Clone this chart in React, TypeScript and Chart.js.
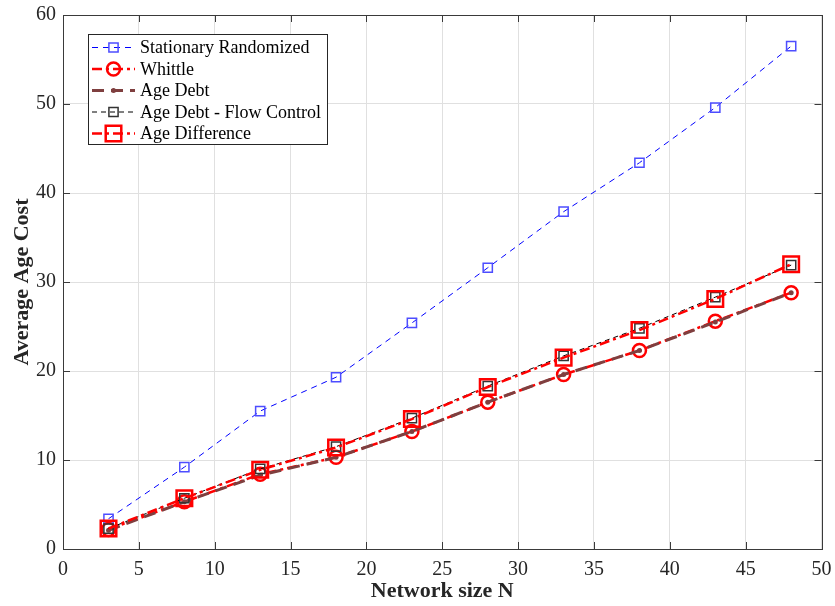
import React, { useEffect, useRef } from 'react';
import { Chart, registerables } from 'chart.js';

Chart.register(...registerables);

const networkSizes = [3, 8, 13, 18, 23, 28, 33, 38, 43, 48];
const stationaryRandomized = [3.4, 9.2, 15.5, 19.3, 25.4, 31.6, 37.9, 43.4, 49.6, 56.5];
const whittle = [2.2, 5.3, 8.4, 10.3, 13.2, 16.5, 19.6, 22.3, 25.6, 28.8];
const ageDebt = [2.1, 5.3, 8.3, 10.3, 13.2, 16.5, 19.6, 22.3, 25.5, 28.8];
const ageDebtFlowControl = [2.3, 5.7, 9.0, 11.5, 14.7, 18.3, 21.7, 24.8, 28.3, 31.9];
const ageDifference = [2.3, 5.7, 8.9, 11.4, 14.6, 18.2, 21.5, 24.6, 28.1, 32.0];
const seriesNames = [
  'Stationary Randomized',
  'Whittle',
  'Age Debt',
  'Age Debt - Flow Control',
  'Age Difference',
];
const xAxisTitle = 'Network size N';
const yAxisTitle = 'Average Age Cost';

const FONT = "'Liberation Serif', 'Times New Roman', serif";

type Style = {
  color: string;
  width: number;
  dash: number[];
  marker: 'rect' | 'circle';
  radius: number;
  markerColor: string;
  markerWidth: number;
  filled: boolean;
};

const styles: Style[] = [
  { color: '#0000ff', width: 1, dash: [6, 5], marker: 'rect', radius: 6.5, markerColor: '#4d4dff', markerWidth: 1.5, filled: false },
  { color: '#ff0000', width: 2.5, dash: [10, 4, 3, 4], marker: 'circle', radius: 6.5, markerColor: '#ff0000', markerWidth: 2.5, filled: false },
  { color: '#7f3f3f', width: 3, dash: [12, 7], marker: 'circle', radius: 2.5, markerColor: '#7f3f3f', markerWidth: 0, filled: true },
  { color: '#000000', width: 1, dash: [5, 4], marker: 'rect', radius: 6.5, markerColor: '#333333', markerWidth: 1.5, filled: false },
  { color: '#ff0000', width: 2.5, dash: [10, 4, 3, 4], marker: 'rect', radius: 11, markerColor: '#ff0000', markerWidth: 2.5, filled: false },
];

const seriesValues = [stationaryRandomized, whittle, ageDebt, ageDebtFlowControl, ageDifference];

function drawMarker(ctx: CanvasRenderingContext2D, s: Style, x: number, y: number) {
  ctx.save();
  ctx.setLineDash([]);
  ctx.beginPath();
  if (s.marker === 'circle') {
    ctx.arc(x, y, s.radius, 0, Math.PI * 2);
  } else {
    const h = s.radius * Math.SQRT1_2;
    ctx.rect(x - h, y - h, 2 * h, 2 * h);
  }
  if (s.filled) {
    ctx.fillStyle = s.markerColor;
    ctx.fill();
  }
  if (s.markerWidth > 0) {
    ctx.strokeStyle = s.markerColor;
    ctx.lineWidth = s.markerWidth;
    ctx.stroke();
  }
  ctx.restore();
}

const framePlugin = {
  id: 'matlabFrame',
  afterDraw(chart: any) {
    const ctx: CanvasRenderingContext2D = chart.ctx;
    const { left, right, top, bottom } = chart.chartArea;
    const xs = chart.scales.x;
    const ys = chart.scales.y;
    ctx.save();
    ctx.strokeStyle = '#3a3a3a';
    ctx.lineWidth = 1;
    ctx.setLineDash([]);
    const tl = 7;
    ctx.beginPath();
    xs.ticks.forEach((t: any) => {
      const px = Math.round(xs.getPixelForValue(t.value)) + 0.5;
      ctx.moveTo(px, bottom);
      ctx.lineTo(px, bottom - tl);
      ctx.moveTo(px, top);
      ctx.lineTo(px, top + tl);
    });
    ys.ticks.forEach((t: any) => {
      const py = Math.round(ys.getPixelForValue(t.value)) + 0.5;
      ctx.moveTo(left, py);
      ctx.lineTo(left + tl, py);
      ctx.moveTo(right, py);
      ctx.lineTo(right - tl, py);
    });
    ctx.stroke();
    ctx.strokeRect(Math.round(left) + 0.5, Math.round(top) + 0.5, Math.round(right - left), Math.round(bottom - top));

    // legend
    const lx = 88.5, ly = 34.5, lw = 239, lh = 110;
    ctx.fillStyle = '#ffffff';
    ctx.fillRect(lx, ly, lw, lh);
    ctx.strokeStyle = '#262626';
    ctx.strokeRect(lx, ly, lw, lh);
    ctx.font = `18px ${FONT}`;
    ctx.textBaseline = 'middle';
    ctx.textAlign = 'left';
    seriesNames.forEach((name, i) => {
      const s = styles[i];
      const y = 47.5 + i * 21.5;
      ctx.save();
      ctx.strokeStyle = s.color;
      ctx.lineWidth = s.width;
      ctx.setLineDash(s.dash);
      ctx.beginPath();
      ctx.moveTo(92, y);
      ctx.lineTo(135, y);
      ctx.stroke();
      ctx.restore();
      drawMarker(ctx, s, 113.5, y);
      ctx.fillStyle = '#000000';
      ctx.fillText(name, 140, y + 1);
    });
    ctx.restore();
  },
};

export default function App() {
  const canvasRef = useRef<HTMLCanvasElement | null>(null);

  useEffect(() => {
    document.body.style.margin = '0';
    const canvas = canvasRef.current;
    if (!canvas) return;
    const datasets = seriesNames.map((name, i) => {
      const s = styles[i];
      return {
        label: name,
        data: networkSizes.map((x, j) => ({ x, y: seriesValues[i][j] })),
        borderColor: s.color,
        borderWidth: s.width,
        borderDash: s.dash,
        backgroundColor: 'transparent',
        fill: false,
        tension: 0,
        pointStyle: s.marker,
        pointRadius: s.radius,
        pointHoverRadius: s.radius,
        pointBorderColor: s.markerColor,
        pointBorderWidth: s.markerWidth,
        pointBackgroundColor: s.filled ? s.markerColor : 'transparent',
        order: seriesNames.length - i,
        clip: false as any,
      };
    });
    const chart = new Chart(canvas, {
      type: 'line',
      data: { datasets },
      options: {
        animation: false,
        responsive: false,
        devicePixelRatio: 1,
        layout: { padding: { left: 0, right: 12, top: 15, bottom: 0 } },
        plugins: {
          legend: { display: false },
          tooltip: { enabled: false },
        },
        scales: {
          x: {
            type: 'linear',
            min: 0,
            max: 50,
            ticks: {
              stepSize: 5,
              color: '#262626',
              font: { family: FONT, size: 20 },
              padding: 9,
              maxRotation: 0,
            },
            grid: { color: '#e0e0e0', drawTicks: false },
            border: { display: false },
            title: {
              display: true,
              text: xAxisTitle,
              color: '#262626',
              font: { family: FONT, size: 22, weight: 'bold' },
              padding: { top: 0, bottom: 1 },
            },
            afterFit: (scale: any) => {
              scale.height = 57;
              scale.paddingLeft = 0;
              scale.paddingRight = 0;
            },
          },
          y: {
            type: 'linear',
            min: 0,
            max: 60,
            ticks: {
              stepSize: 10,
              color: '#262626',
              font: { family: FONT, size: 20 },
              padding: 7,
            },
            grid: { color: '#e0e0e0', drawTicks: false },
            border: { display: false },
            title: {
              display: true,
              text: yAxisTitle,
              color: '#262626',
              font: { family: FONT, size: 22, weight: 'bold' },
              padding: { top: 9, bottom: 0 },
            },
            afterFit: (scale: any) => {
              scale.width = 63;
              scale.paddingTop = 0;
              scale.paddingBottom = 0;
            },
          },
        },
      },
      plugins: [framePlugin],
    });
    return () => chart.destroy();
  }, []);

  return (
    <div style={{ width: 835, height: 606, background: '#ffffff' }}>
      <canvas ref={canvasRef} width={835} height={606} style={{ display: 'block', width: 835, height: 606 }} />
    </div>
  );
}
